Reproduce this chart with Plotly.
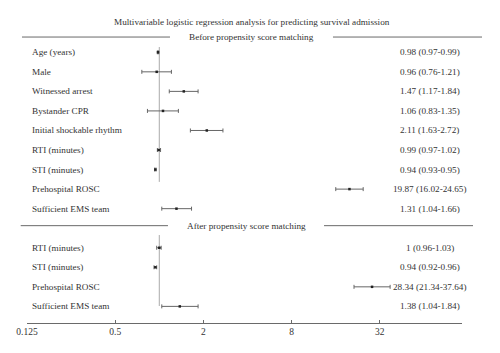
import plotly.graph_objects as go

title = "Multivariable logistic regression analysis for predicting survival admission"
before_header = "Before propensity score matching"
after_header = "After propensity score matching"

before_labels = ["Age (years)", "Male", "Witnessed arrest", "Bystander CPR",
                 "Initial shockable rhythm", "RTI (minutes)", "STI (minutes)",
                 "Prehospital ROSC", "Sufficient EMS team"]
before_or = [0.98, 0.96, 1.47, 1.06, 2.11, 0.99, 0.94, 19.87, 1.31]
before_lo = [0.97, 0.76, 1.17, 0.83, 1.63, 0.97, 0.93, 16.02, 1.04]
before_hi = [0.99, 1.21, 1.84, 1.35, 2.72, 1.02, 0.95, 24.65, 1.66]

after_labels = ["RTI (minutes)", "STI (minutes)", "Prehospital ROSC", "Sufficient EMS team"]
after_or = [1, 0.94, 28.34, 1.38]
after_lo = [0.96, 0.92, 21.34, 1.04]
after_hi = [1.03, 0.96, 37.64, 1.84]

tick_vals = [0.125, 0.5, 2, 8, 32]
tick_text = ["0.125", "0.5", "2", "8", "32"]

FONT = "Liberation Serif"
TXT = "#333333"
LINE = "#6a6a6a"

labels = before_labels + after_labels
ors = before_or + after_or
los = before_lo + after_lo
his = before_hi + after_hi
ypos = list(range(len(before_labels))) + [len(before_labels) + 1 + i for i in range(len(after_labels))]

fig = go.Figure()
fig.add_trace(go.Scatter(
    x=ors, y=ypos, mode="markers",
    marker=dict(symbol="square", size=2.5, color="#222222"),
    error_x=dict(type="data", symmetric=False,
                 array=[h - o for h, o in zip(his, ors)],
                 arrayminus=[o - l for o, l in zip(ors, los)],
                 color="#666666", thickness=1, width=2),
    showlegend=False, hoverinfo="skip",
))

ann = []
def fmt(v):
    return "{:g}".format(v)

for lab, y, o, l, h in zip(labels, ypos, ors, los, his):
    ann.append(dict(x=0.007, y=y, xref="paper", yref="y", text=lab, showarrow=False,
                    xanchor="left", yanchor="middle", font=dict(family=FONT, size=9.2, color=TXT)))
    ann.append(dict(x=0.9264, y=y, xref="paper", yref="y", text=f"{fmt(o)} ({fmt(l)}-{fmt(h)})",
                    showarrow=False, xanchor="center", yanchor="middle",
                    font=dict(family=FONT, size=9.2, color=TXT)))

ann.append(dict(x=0.517, y=-1.57, xref="paper", yref="y", text=title, showarrow=False,
                xanchor="center", yanchor="middle", font=dict(family=FONT, size=9.2, color=TXT)))
ann.append(dict(x=0.517, y=-0.8, xref="paper", yref="y", text=before_header, showarrow=False,
                xanchor="center", yanchor="middle", font=dict(family=FONT, size=9.2, color=TXT)))
ann.append(dict(x=0.5057, y=8.87, xref="paper", yref="y", text=after_header, showarrow=False,
                xanchor="center", yanchor="middle", font=dict(family=FONT, size=9.2, color=TXT)))

shapes = [
    dict(type="line", xref="paper", yref="y", x0=-0.0115, x1=0.3287, y0=-0.78, y1=-0.78,
         line=dict(color=LINE, width=1)),
    dict(type="line", xref="paper", yref="y", x0=0.7034, x1=1.046, y0=-0.78, y1=-0.78,
         line=dict(color=LINE, width=1)),
    dict(type="line", xref="paper", yref="y", x0=-0.0145, x1=0.3241, y0=8.87, y1=8.87,
         line=dict(color=LINE, width=1)),
    dict(type="line", xref="paper", yref="y", x0=0.6828, x1=1.0253, y0=8.87, y1=8.87,
         line=dict(color=LINE, width=1)),
    dict(type="line", xref="x", yref="y", x0=1, x1=1, y0=-0.27, y1=6.63,
         line=dict(color="#aaaaaa", width=1), layer="below"),
    dict(type="line", xref="x", yref="y", x0=1, x1=1, y0=9.35, y1=12.98,
         line=dict(color="#aaaaaa", width=1), layer="below"),
]

fig.update_layout(
    width=500, height=353,
    margin=dict(l=27, r=38, t=0, b=30),
    paper_bgcolor="white", plot_bgcolor="white",
    annotations=ann, shapes=shapes,
    xaxis=dict(type="log", range=[-0.9031, 2.0664], tickvals=tick_vals, ticktext=tick_text,
               ticks="inside", ticklen=3, tickcolor=LINE, tickwidth=1,
               showline=True, linecolor=LINE, linewidth=1,
               showgrid=False, zeroline=False,
               tickfont=dict(family=FONT, size=9.5, color=TXT)),
    yaxis=dict(range=[13.85, -2.675], visible=False, showgrid=False, zeroline=False),
)

fig.write_html("out.html")
